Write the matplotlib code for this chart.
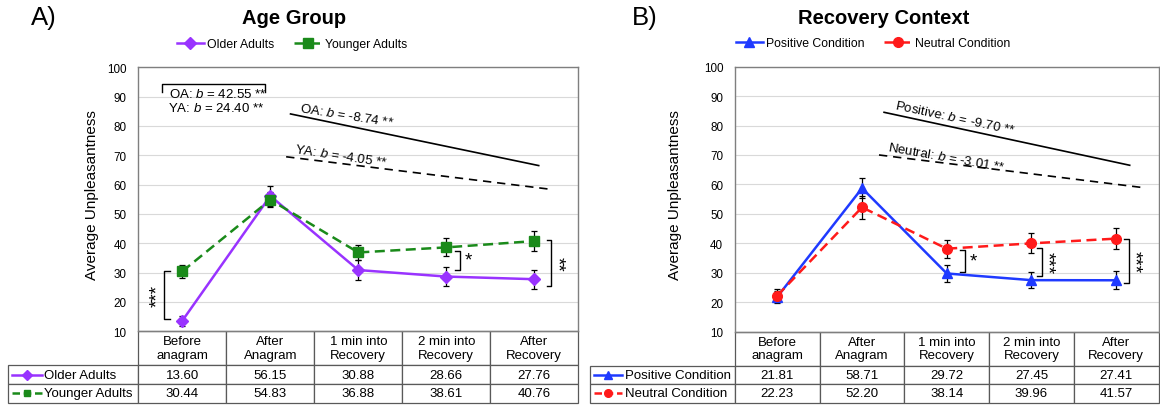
import matplotlib
matplotlib.use("Agg")
import matplotlib.pyplot as plt

plt.rcParams['font.family'] = ['Liberation Sans', 'DejaVu Sans']
plt.rcParams['mathtext.fontset'] = 'custom'
plt.rcParams['mathtext.rm'] = 'Liberation Sans'
plt.rcParams['mathtext.it'] = 'Liberation Sans:italic'

# ---- data ----
categories = ["Before\nanagram", "After\nAnagram", "1 min into\nRecovery", "2 min into\nRecovery", "After\nRecovery"]

older = [13.60, 56.15, 30.88, 28.66, 27.76]
older_err = [1.7, 3.5, 3.3, 3.2, 3.2]
younger = [30.44, 54.83, 36.88, 38.61, 40.76]
younger_err = [2.3, 2.5, 2.7, 3.1, 3.4]

positive = [21.81, 58.71, 29.72, 27.45, 27.41]
positive_err = [2.0, 3.3, 2.8, 2.7, 3.1]
neutral = [22.23, 52.20, 38.14, 39.96, 41.57]
neutral_err = [2.2, 3.8, 3.1, 3.4, 3.6]

yticks = [10, 20, 30, 40, 50, 60, 70, 80, 90, 100]

purple = '#9933FF'
green = '#1A8A1A'
blue = '#1F3AFF'
red = '#FF1A1A'
edge = '#595959'

fig = plt.figure(figsize=(11.6, 4.06), dpi=100)
axA = fig.add_axes([138.3/1160, 1-332.3/406, 440/1160, 264/406])
axB = fig.add_axes([735/1160, 1-332.5/406, 423.5/1160, 264.8/406])

HEAD = 0.48   # share of table height for header row


def setup(ax, lab_x):
    ax.set_xlim(-0.5, 4.5)
    ax.set_ylim(10, 100)
    ax.set_yticks(yticks)
    ax.set_xticks([])
    ax.tick_params(axis='y', length=0, labelsize=8.4, pad=8.5)
    ax.grid(axis='y', color='#d9d9d9', lw=0.8)
    ax.set_axisbelow(True)
    for s in ax.spines.values():
        s.set_color('#7f7f7f')
        s.set_linewidth(1.0)
    ax.set_ylabel("Average Unpleasantness", fontsize=11)
    ax.yaxis.set_label_coords(lab_x, 0.52)


def series(ax, vals, err, color, marker, ms, ls, label):
    x = range(len(vals))
    ax.errorbar(x, vals, yerr=err, fmt='none', ecolor='black', elinewidth=0.9,
                capsize=2.5, capthick=0.9, zorder=3)
    ax.plot(x, vals, color=color, marker=marker, markersize=ms, lw=1.8,
            ls=ls, label=label, zorder=4)


def bracket(ax, x, y0, y1, tick, stars, rot, dx):
    ax.plot([x + tick, x, x, x + tick], [y0, y0, y1, y1], color='black', lw=1.0)
    ax.text(x + dx, (y0 + y1) / 2, stars, rotation=rot, ha='center', va='center',
            fontsize=13.5)


def table(ax, rows, labels, keys, lab_frac, tbl_h, key_x, pad):
    cell = [[labels[i]] + ["%.2f" % v for v in rows[i]] for i in range(len(rows))]
    w = 1.0 / 5
    tb = ax.table(cellText=cell, colLabels=[''] + categories,
                  colWidths=[lab_frac] + [w] * 5,
                  cellLoc='center', bbox=[-lab_frac, -tbl_h, 1 + lab_frac, tbl_h])
    tb.auto_set_font_size(False)
    tb.set_fontsize(9.5)
    row_h = (1 - HEAD) / 2
    for (r, c), ce in tb.get_celld().items():
        ce.set_edgecolor(edge)
        ce.set_linewidth(0.9)
        ce.set_height(HEAD if r == 0 else row_h)
        if c == 0 and r > 0:
            ce.get_text().set_horizontalalignment('left')
            ce.PAD = pad
    tb[(0, 0)].visible_edges = ''
    # legend keys in label column
    for i, (color, marker, ms, ls) in enumerate(keys):
        yc = -tbl_h + tbl_h * (row_h * (1 - i) + row_h / 2)
        ax.plot(key_x, [yc, yc], color=color, ls=ls, lw=1.8, transform=ax.transAxes,
                clip_on=False)
        ax.plot([(key_x[0] + key_x[1]) / 2], [yc], color=color, marker=marker,
                markersize=ms, transform=ax.transAxes, clip_on=False)


# ---- panel A ----
setup(axA, -0.089)
series(axA, older, older_err, purple, 'D', 6.5, '-', 'Older Adults')
series(axA, younger, younger_err, green, 's', 6.5, (0, (4, 2.2)), 'Younger Adults')

axA.plot([1.23, 4.05], [84.1, 66.5], color='black', lw=1.2)
axA.plot([1.18, 4.16], [69.5, 58.5], color='black', lw=1.2, ls=(0, (5, 3.5)))
axA.text(1.33, 84.0, "OA: $b$ = -8.74 **", rotation=-9, rotation_mode='anchor',
         ha='left', va='bottom', fontsize=9.5)
axA.text(1.27, 70.2, "YA: $b$ = -4.05 **", rotation=-8.5, rotation_mode='anchor',
         ha='left', va='bottom', fontsize=9.5)
axA.plot([-0.227, -0.227, 0.94, 0.94], [91.5, 94.3, 94.3, 91.5], color='black', lw=1.0)
axA.text(-0.151, 91.0, "OA: $b$ = 42.55 **", ha='left', va='center', fontsize=9.5)
axA.text(-0.163, 86.3, "YA: $b$ = 24.40 **", ha='left', va='center', fontsize=9.5)

bracket(axA, -0.205, 14.2, 30.4, 0.065, '***', 90, -0.08)
bracket(axA, 3.156, 31.0, 37.5, -0.057, '*', 0, 0.1)
bracket(axA, 4.19, 25.5, 41.1, -0.05, '**', 270, 0.06)

table(axA, [older, younger], ["Older Adults", "Younger Adults"],
      [(purple, 'D', 5, '-'), (green, 's', 5, (0, (3, 1.5)))],
      130/440, 71.2/264, [-0.288, -0.2195], 0.277)

hA, lA = axA.get_legend_handles_labels()
fig.legend(hA, lA, loc='center', bbox_to_anchor=(292/1160, 1-45/406), ncol=2,
           frameon=False, fontsize=8.8, handlelength=2.2, columnspacing=1.6,
           handletextpad=0.3)

# ---- panel B ----
setup(axB, -0.125)
series(axB, positive, positive_err, blue, '^', 7.5, '-', 'Positive Condition')
series(axB, neutral, neutral_err, red, 'o', 7, (0, (4, 2.2)), 'Neutral Condition')

axB.plot([1.26, 4.16], [84.5, 66.5], color='black', lw=1.2)
axB.plot([1.2, 4.29], [70, 59], color='black', lw=1.2, ls=(0, (5, 3.5)))
axB.text(1.37, 85.0, "Positive: $b$ = -9.70 **", rotation=-12, rotation_mode='anchor',
         ha='left', va='bottom', fontsize=9.5)
axB.text(1.29, 70.8, "Neutral: $b$ = -3.01 **", rotation=-10, rotation_mode='anchor',
         ha='left', va='bottom', fontsize=9.5)

bracket(axB, 2.22, 30.3, 37.8, -0.06, '*', 0, 0.1)
bracket(axB, 3.12, 28.7, 38.5, -0.06, '***', 270, 0.06)
bracket(axB, 4.15, 26.6, 41.6, -0.06, '***', 270, 0.06)

table(axB, [positive, neutral], ["Positive Condition", "Neutral Condition"],
      [(blue, '^', 6, '-'), (red, 'o', 5.5, (0, (3, 1.5)))],
      145/423.5, 71/264.8, [-0.334, -0.267], 0.241)

hB, lB = axB.get_legend_handles_labels()
fig.legend(hB, lB, loc='center', bbox_to_anchor=(873/1160, 1-44/406), ncol=2,
           frameon=False, fontsize=8.8, handlelength=2.2, columnspacing=1.6,
           handletextpad=0.3)

# ---- titles ----
fig.text(294/1160, 1-18/406, "Age Group", ha='center', va='center', fontsize=14.5,
         fontweight='bold')
fig.text(884/1160, 1-18/406, "Recovery Context", ha='center', va='center', fontsize=14.5,
         fontweight='bold')
fig.text(31/1160, 1-18/406, "A)", ha='left', va='center', fontsize=18.5)
fig.text(632/1160, 1-18/406, "B)", ha='left', va='center', fontsize=18.5)

fig.savefig("out.png", dpi=100)
